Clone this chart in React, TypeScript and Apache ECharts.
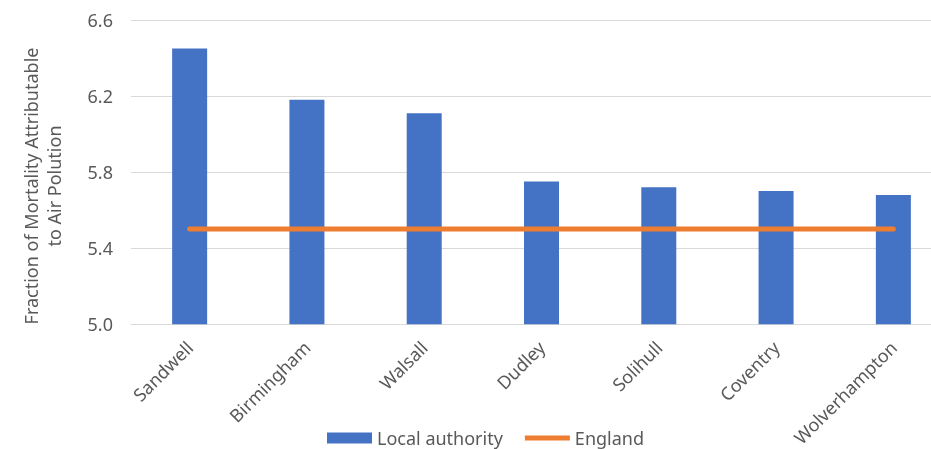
import React, { useEffect, useRef } from "react";
import * as echarts from "echarts";

const categories = ["Sandwell", "Birmingham", "Walsall", "Dudley", "Solihull", "Coventry", "Wolverhampton"];
const localAuthority = [6.45, 6.18, 6.11, 5.75, 5.72, 5.70, 5.68];
const england = [5.5, 5.5, 5.5, 5.5, 5.5, 5.5, 5.5];
const yMin = 5.0;
const yMax = 6.6;
const yInterval = 0.4;

const FONT = "'Noto Sans', sans-serif";
const GREY = "#595959";

export default function App() {
  const ref = useRef<HTMLDivElement>(null);
  useEffect(() => {
    if (!ref.current) return;
    const chart = echarts.init(ref.current, undefined, { renderer: "svg" });
    chart.setOption({
      animation: false,
      textStyle: { fontFamily: FONT },
      grid: { left: 131, right: 0, top: 20, bottom: 124, containLabel: false },
      legend: {
        bottom: 2,
        left: 327,
        padding: 0,
        itemWidth: 45,
        itemHeight: 11,
        itemGap: 22,
        textStyle: { fontSize: 18, color: GREY, fontFamily: FONT },
        data: [
          { name: "Local authority", icon: "rect" },
          { name: "England", icon: "path://M0,0h45v5h-45z" },
        ],
      },
      xAxis: {
        type: "category",
        data: categories,
        axisLine: { lineStyle: { color: "#d9d9d9" } },
        axisTick: { show: false },
        axisLabel: { rotate: 45, fontSize: 18, color: GREY, margin: 20, interval: 0, fontFamily: FONT },
      },
      yAxis: {
        type: "value",
        min: yMin,
        max: yMax,
        interval: yInterval,
        axisLine: { show: false },
        axisTick: { show: false },
        splitLine: { lineStyle: { color: "#d9d9d9" } },
        axisLabel: {
          fontSize: 18,
          color: GREY,
          margin: 18,
          fontFamily: FONT,
          formatter: (v: number) => v.toFixed(1),
        },
      },
      graphic: [
        {
          type: "text",
          x: 42,
          y: 186,
          rotation: Math.PI / 2,
          style: {
            text: "Fraction of Mortality Attributable\nto Air Polution",
            fontSize: 18,
            lineHeight: 23,
            fill: GREY,
            fontFamily: FONT,
            textAlign: "center",
            textVerticalAlign: "middle",
            align: "center",
            verticalAlign: "middle",
          },
        },
      ],
      series: [
        {
          name: "Local authority",
          type: "bar",
          data: localAuthority,
          barWidth: 35,
          itemStyle: { color: "#4472C4" },
        },
        {
          name: "England",
          type: "line",
          data: england,
          symbol: "none",
          lineStyle: { color: "#ED7D31", width: 5, cap: "round" },
          itemStyle: { color: "#ED7D31" },
        },
      ],
    });
    return () => chart.dispose();
  }, []);
  return (
    <div style={{ position: "fixed", left: 0, top: 0, width: 931, height: 449, overflow: "hidden" }}>
      <div ref={ref} style={{ width: 952, height: 449 }} />
    </div>
  );
}
